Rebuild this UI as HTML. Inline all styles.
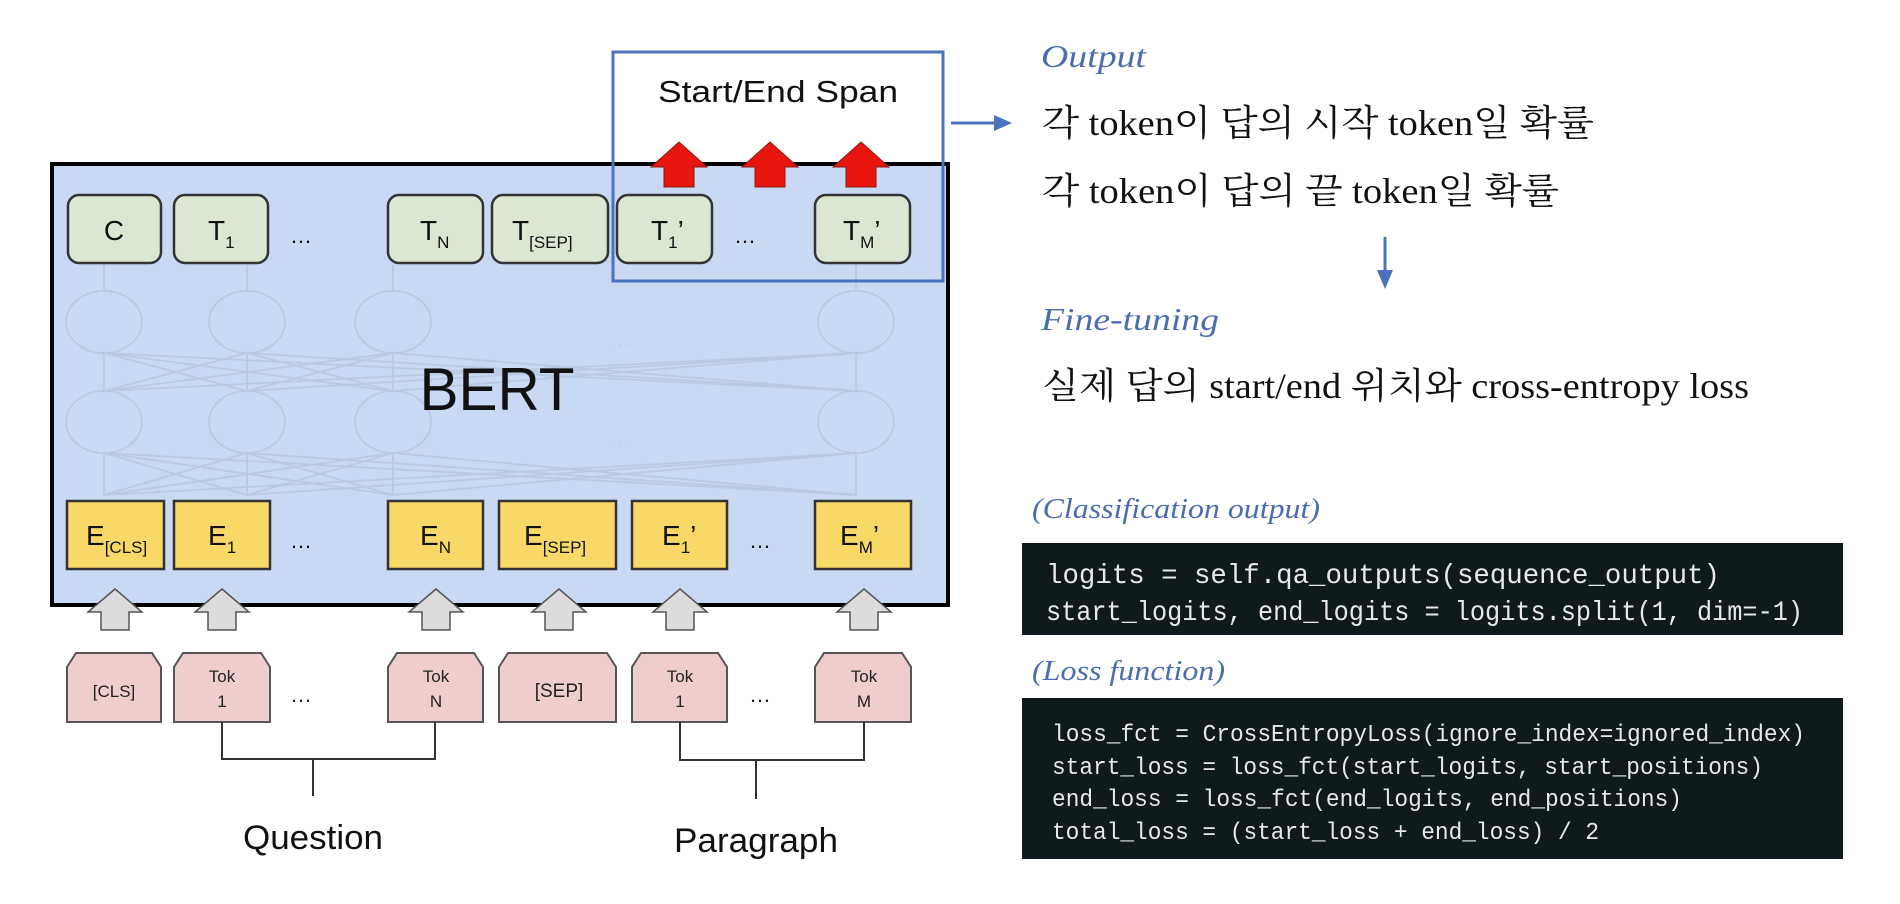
<!DOCTYPE html>
<html><head><meta charset="utf-8"><style>
html,body{margin:0;padding:0;background:#fff;}
svg{display:block;}
</style></head><body>
<svg width="1900" height="904" viewBox="0 0 1900 904" xmlns="http://www.w3.org/2000/svg">
<!-- BERT box -->
<rect x="52" y="164" width="896" height="441" fill="#c9d8f3" stroke="#000" stroke-width="4"/>
<!-- ghost network -->
<g stroke="#b8c5de" stroke-width="1.8" fill="none" opacity="0.8">
  <ellipse cx="104" cy="322" rx="38" ry="31"/><ellipse cx="247" cy="322" rx="38" ry="31"/><ellipse cx="393" cy="322" rx="38" ry="31"/><ellipse cx="856" cy="322" rx="38" ry="31"/>
  <ellipse cx="104" cy="422" rx="38" ry="31"/><ellipse cx="247" cy="422" rx="38" ry="31"/><ellipse cx="393" cy="422" rx="38" ry="31"/><ellipse cx="856" cy="422" rx="38" ry="31"/>
  <path d="M104 391 L247 353 M104 391 L393 353 M104 391 L856 353 M247 391 L104 353 M247 391 L393 353 M247 391 L856 353 M393 391 L104 353 M393 391 L247 353 M393 391 L856 353 M856 391 L104 353 M856 391 L247 353 M856 391 L393 353"/>
  <path d="M104 495 L247 453 M104 495 L393 453 M104 495 L856 453 M247 495 L104 453 M247 495 L393 453 M247 495 L856 453 M393 495 L104 453 M393 495 L247 453 M393 495 L856 453 M856 495 L104 453 M856 495 L247 453 M856 495 L393 453"/>
  <path d="M104 391 V353 M247 391 V353 M393 391 V353 M856 391 V353 M104 495 V453 M247 495 V453 M393 495 V453 M856 495 V453 M104 291 V265 M247 291 V265 M393 291 V265 M856 291 V265"/>
</g>
<text x="612" y="346" font-family="Liberation Sans" font-size="12" fill="#b3bfd9">. . .</text>
<text x="612" y="446" font-family="Liberation Sans" font-size="12" fill="#b3bfd9">. . .</text>
<text x="497" y="410" text-anchor="middle" font-family="Liberation Sans, sans-serif" font-size="60" fill="#111" textLength="155" lengthAdjust="spacingAndGlyphs">BERT</text>
<!-- T boxes -->
<g fill="#dbe7d3" stroke="#333" stroke-width="2.5">
  <rect x="68" y="195" width="93" height="68" rx="11"/>
  <rect x="174" y="195" width="94" height="68" rx="11"/>
  <rect x="388" y="195" width="95" height="68" rx="11"/>
  <rect x="492" y="195" width="116" height="68" rx="11"/>
  <rect x="617" y="195" width="95" height="68" rx="11"/>
  <rect x="815" y="195" width="95" height="68" rx="11"/>
</g>
<g font-family="Liberation Sans, sans-serif" fill="#111" font-size="28">
  <text x="114" y="240" text-anchor="middle">C</text>
  <text x="208" y="240">T<tspan font-size="17" dy="8">1</tspan></text>
  <text x="420" y="240">T<tspan font-size="17" dy="8">N</tspan></text>
  <text x="512" y="240">T<tspan font-size="17" dy="8">[SEP]</tspan></text>
  <text x="651" y="240">T<tspan font-size="17" dy="8">1</tspan><tspan dy="-8">’</tspan></text>
  <text x="843" y="240">T<tspan font-size="17" dy="8">M</tspan><tspan dy="-8">’</tspan></text>
  <text x="301" y="243" text-anchor="middle" font-size="22">…</text>
  <text x="745" y="243" text-anchor="middle" font-size="22">…</text>
</g>
<!-- E boxes -->
<g fill="#f8d866" stroke="#333" stroke-width="2.5">
  <rect x="67" y="501" width="97" height="68"/>
  <rect x="174" y="501" width="96" height="68"/>
  <rect x="388" y="501" width="95" height="68"/>
  <rect x="499" y="501" width="117" height="68"/>
  <rect x="632" y="501" width="95" height="68"/>
  <rect x="815" y="501" width="96" height="68"/>
</g>
<g font-family="Liberation Sans, sans-serif" fill="#111" font-size="28">
  <text x="86" y="545">E<tspan font-size="17" dy="8">[CLS]</tspan></text>
  <text x="208" y="545">E<tspan font-size="17" dy="8">1</tspan></text>
  <text x="420" y="545">E<tspan font-size="17" dy="8">N</tspan></text>
  <text x="524" y="545">E<tspan font-size="17" dy="8">[SEP]</tspan></text>
  <text x="662" y="545">E<tspan font-size="17" dy="8">1</tspan><tspan dy="-8">’</tspan></text>
  <text x="840" y="545">E<tspan font-size="17" dy="8">M</tspan><tspan dy="-8">’</tspan></text>
  <text x="301" y="548" text-anchor="middle" font-size="22">…</text>
  <text x="760" y="548" text-anchor="middle" font-size="22">…</text>
</g>
<!-- red arrows -->
<g fill="#e8160f" stroke="#8a1a10" stroke-width="1">
  <path d="M679 142 L707 167 L694 167 L694 187 L664 187 L664 167 L651 167 Z"/>
  <path d="M770 142 L798 167 L785 167 L785 187 L755 187 L755 167 L742 167 Z"/>
  <path d="M861 142 L889 167 L876 167 L876 187 L846 187 L846 167 L833 167 Z"/>
</g>
<!-- span box -->
<rect x="613" y="52" width="330" height="229" fill="none" stroke="#4b72bd" stroke-width="3"/>
<text x="778" y="102" text-anchor="middle" font-family="Liberation Sans, sans-serif" font-size="31" fill="#111" textLength="240" lengthAdjust="spacingAndGlyphs">Start/End Span</text>
<!-- gray arrows -->
<g fill="#dcdcdc" stroke="#555" stroke-width="1.5">
  <path d="M115 589 L142 612 L129 612 L129 630 L101 630 L101 612 L88 612 Z"/>
  <path d="M222 589 L249 612 L236 612 L236 630 L208 630 L208 612 L195 612 Z"/>
  <path d="M436 589 L463 612 L450 612 L450 630 L422 630 L422 612 L409 612 Z"/>
  <path d="M559 589 L586 612 L573 612 L573 630 L545 630 L545 612 L532 612 Z"/>
  <path d="M680 589 L707 612 L694 612 L694 630 L666 630 L666 612 L653 612 Z"/>
  <path d="M864 589 L891 612 L878 612 L878 630 L850 630 L850 612 L837 612 Z"/>
</g>
<!-- Tok boxes -->
<g fill="#f0cdcd" stroke="#555" stroke-width="2">
  <path d="M67 722 V667 L76 653 H152 L161 667 V722 Z"/>
  <path d="M174 722 V667 L183 653 H261 L270 667 V722 Z"/>
  <path d="M388 722 V667 L397 653 H474 L483 667 V722 Z"/>
  <path d="M499 722 V667 L508 653 H607 L616 667 V722 Z"/>
  <path d="M632 722 V667 L641 653 H718 L727 667 V722 Z"/>
  <path d="M815 722 V667 L824 653 H902 L911 667 V722 Z"/>
</g>
<g font-family="Liberation Sans, sans-serif" fill="#222" font-size="17" text-anchor="middle">
  <text x="114" y="697">[CLS]</text>
  <text x="222" y="682">Tok</text><text x="222" y="707">1</text>
  <text x="436" y="682">Tok</text><text x="436" y="707">N</text>
  <text x="559" y="697" font-size="19">[SEP]</text>
  <text x="680" y="682">Tok</text><text x="680" y="707">1</text>
  <text x="864" y="682">Tok</text><text x="864" y="707">M</text>
  <text x="301" y="702" font-size="22">…</text>
  <text x="760" y="702" font-size="22">…</text>
</g>
<!-- brackets -->
<g stroke="#333" stroke-width="2" fill="none">
  <path d="M222 722 V759 H435 V722 M313 759 V796"/>
  <path d="M680 722 V760 H864 V722 M756 760 V799"/>
</g>
<text x="313" y="849" text-anchor="middle" font-family="Liberation Sans, sans-serif" font-size="34" fill="#111" textLength="140" lengthAdjust="spacingAndGlyphs">Question</text>
<text x="756" y="852" text-anchor="middle" font-family="Liberation Sans, sans-serif" font-size="34" fill="#111" textLength="164" lengthAdjust="spacingAndGlyphs">Paragraph</text>
<!-- blue arrow right -->
<line x1="951" y1="123" x2="996" y2="123" stroke="#4b72bd" stroke-width="3"/>
<path d="M1012 123 L994 115 L994 131 Z" fill="#4b72bd"/>
<!-- right texts -->
<g font-family="Liberation Serif, 'Noto Serif CJK SC', serif">
  <text x="1041" y="67" font-size="32" font-style="italic" fill="#4b6db0" textLength="105" lengthAdjust="spacingAndGlyphs">Output</text>
  <text x="1042" y="135" font-size="36" fill="#111" textLength="552" lengthAdjust="spacingAndGlyphs">각 token이 답의 시작 token일 확률</text>
  <text x="1042" y="203" font-size="36" fill="#111" textLength="517" lengthAdjust="spacingAndGlyphs">각 token이 답의 끝 token일 확률</text>
  <text x="1041" y="330" font-size="32" font-style="italic" fill="#4b6db0" textLength="178" lengthAdjust="spacingAndGlyphs">Fine-tuning</text>
  <text x="1042" y="398" font-size="36" fill="#111" textLength="707" lengthAdjust="spacingAndGlyphs">실제 답의 start/end 위치와 cross-entropy loss</text>
  <text x="1032" y="518" font-size="28" font-style="italic" fill="#4b6db0" textLength="288" lengthAdjust="spacingAndGlyphs">(Classification output)</text>
  <text x="1032" y="680" font-size="28" font-style="italic" fill="#4b6db0" textLength="193" lengthAdjust="spacingAndGlyphs">(Loss function)</text>
</g>
<line x1="1385" y1="237" x2="1385" y2="272" stroke="#4b72bd" stroke-width="3"/>
<path d="M1385 289 L1377 270 L1393 270 Z" fill="#4b72bd"/>
<!-- code boxes -->
<rect x="1022" y="543" width="821" height="92" fill="#0e1a1c"/>
<rect x="1022" y="698" width="821" height="161" fill="#0e1a1c"/>
<g font-family="Liberation Mono, monospace" fill="#e8e8e8">
  <text x="1046" y="583" font-size="28" textLength="674" lengthAdjust="spacingAndGlyphs">logits = self.qa_outputs(sequence_output)</text>
  <text x="1046" y="620" font-size="28" textLength="757" lengthAdjust="spacingAndGlyphs">start_logits, end_logits = logits.split(1, dim=-1)</text>
  <text x="1052" y="741" font-size="24" textLength="753" lengthAdjust="spacingAndGlyphs">loss_fct = CrossEntropyLoss(ignore_index=ignored_index)</text>
  <text x="1052" y="774" font-size="24" textLength="711" lengthAdjust="spacingAndGlyphs">start_loss = loss_fct(start_logits, start_positions)</text>
  <text x="1052" y="806" font-size="24" textLength="630" lengthAdjust="spacingAndGlyphs">end_loss = loss_fct(end_logits, end_positions)</text>
  <text x="1052" y="839" font-size="24" textLength="547" lengthAdjust="spacingAndGlyphs">total_loss = (start_loss + end_loss) / 2</text>
</g>
</svg>
</body></html>
